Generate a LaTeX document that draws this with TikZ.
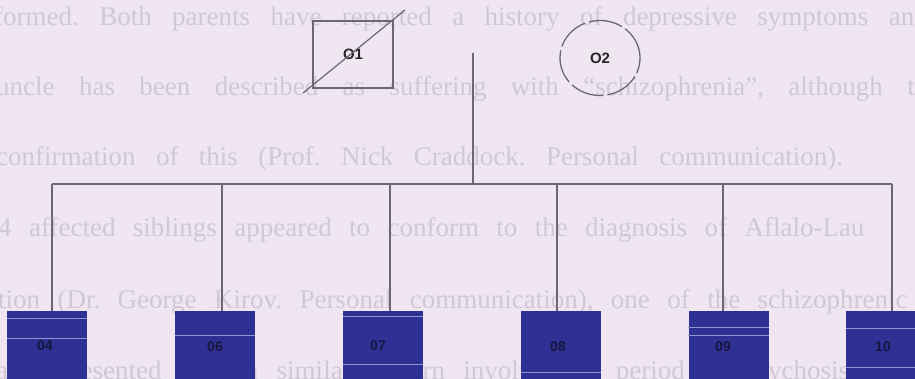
\documentclass[tikz,border=0pt]{standalone}
\usepackage{fontspec}
\setmainfont{Liberation Serif}
\newfontfamily\labfont{Liberation Sans}
\usetikzlibrary{shapes.geometric}
\definecolor{bg}{HTML}{EFE6F1}
\definecolor{ghost}{HTML}{D1C8D6}
\definecolor{ink}{HTML}{6C6676}
\definecolor{boxblue}{HTML}{2E3094}
\definecolor{lab}{HTML}{17163F}
\definecolor{scan}{HTML}{9492CC}
\frenchspacing
% next faint word of the scanned page, one (wide, justified) space after the previous one
\newcommand{\gap}{20pt}
\newcommand{\gw}[3]{\node[ghosttext] (#1) at ([xshift=\gap]#2.base east) {#3};}
\begin{document}
\begin{tikzpicture}[x=1pt,y=-1pt,
  ghosttext/.style={anchor=base west,text=ghost,inner sep=0pt,font=\fontsize{27}{27}\selectfont},
  conn/.style={draw=ink,line width=1.2pt},
  parentlab/.style={font=\labfont\bfseries\fontsize{15}{15}\selectfont,text=black!85},
  male/.style={rectangle,draw=ink,line width=1.4pt,minimum width=80pt,minimum height=67pt,inner sep=0pt},
  female/.style={ellipse,draw=ink,line width=1.3pt,dash pattern=on 34pt off 4pt,minimum width=80pt,minimum height=75pt,inner sep=0pt},
  child/.style={rectangle,fill=boxblue,minimum width=80pt,minimum height=72pt,inner sep=0pt},
  childlab/.style={text=lab,font=\labfont\bfseries\fontsize{14}{14}\selectfont},
  scanline/.style={draw=scan,line width=0.6pt}]
\useasboundingbox (0,0) rectangle (915,379);
\clip (0,0) rectangle (915,379);
\fill[bg] (0,0) rectangle (915,379);
% faint text of the scanned page
\renewcommand{\gap}{20pt}
\node[ghosttext] (a1) at (-6,26) {formed.};
\gw{a2}{a1}{Both}\gw{a3}{a2}{parents}\gw{a4}{a3}{have}\gw{a5}{a4}{reported}\gw{a6}{a5}{a}
\gw{a7}{a6}{history}\gw{a8}{a7}{of}\gw{a9}{a8}{depressive}\gw{a10}{a9}{symptoms}\gw{a11}{a10}{and}
\renewcommand{\gap}{24pt}
\node[ghosttext] (b1) at (-4,96) {uncle};
\gw{bb2}{b1}{has}\gw{bb3}{bb2}{been}\gw{bb4}{bb3}{described}\gw{bb5}{bb4}{as}\gw{bb6}{bb5}{suffering}
\gw{bb7}{bb6}{with}\gw{bb8}{bb7}{``schizophrenia'',}\gw{bb9}{bb8}{although}\gw{bb10}{bb9}{th}
\renewcommand{\gap}{20pt}
\node[ghosttext] (c1) at (-4,166) {confirmation};
\gw{c2}{c1}{of}\gw{c3}{c2}{this}\gw{c4}{c3}{(Prof.}\gw{c5}{c4}{Nick}\gw{c6}{c5}{Craddock.}
\gw{c7}{c6}{Personal}\gw{c8}{c7}{communication).}
\renewcommand{\gap}{17pt}
\node[ghosttext] (e1) at (-2,237) {4};
\gw{e2}{e1}{affected}\gw{e3}{e2}{siblings}\gw{e4}{e3}{appeared}\gw{e5}{e4}{to}\gw{e6}{e5}{conform}
\gw{e7}{e6}{to}\gw{e8}{e7}{the}\gw{e9}{e8}{diagnosis}\gw{e10}{e9}{of}\gw{e11}{e10}{Aflalo-Lau}
\renewcommand{\gap}{17pt}
\node[ghosttext] (f1) at (-2,308) {tion};
\gw{f2}{f1}{(Dr.}\gw{f3}{f2}{George}\gw{f4}{f3}{Kirov.}\gw{f5}{f4}{Personal}\gw{f6}{f5}{communication),}
\gw{f7}{f6}{one}\gw{f8}{f7}{of}\gw{f9}{f8}{the}\gw{f10}{f9}{schizophrenic}
\renewcommand{\gap}{18pt}
\node[ghosttext] (g1) at (-4,379) {also};
\gw{g2}{g1}{presented}\gw{g3}{g2}{with}\gw{g4}{g3}{a}\gw{g5}{g4}{similar}\gw{g6}{g5}{pattern}
\gw{g7}{g6}{involving}\gw{g8}{g7}{a}\gw{g9}{g8}{period}\gw{g10}{g9}{of}\gw{g11}{g10}{psychosis}\gw{g12}{g11}{to}
% parents
\node[male] (o1) at (353,54.5) {};
\node[parentlab] (o1l) at (o1.center) {O1};
\coordinate (d1) at (303,93);
\coordinate (d2) at (405,10);
\draw[ink,line width=1.2pt] (d1) -- (d2);
\node[female] (o2) at (600,58) {};
\node[parentlab] (o2l) at (o2.center) {O2};
% sibship
\coordinate (top) at (473,53);
\coordinate (mid) at (473,184);
\coordinate (s1) at (52,184);
\coordinate (s2) at (222,184);
\coordinate (s3) at (390,184);
\coordinate (s4) at (557,184);
\coordinate (s5) at (723,184);
\coordinate (s6) at (892,184);
\node[child] (c04) at (47,347) {};
\node[child] (c06) at (215,347) {};
\node[child] (c07) at (383,347) {};
\node[child] (c08) at (561,347) {};
\node[child] (c09) at (728.5,347) {};
\node[child] (c10) at (886,347) {};
\draw[conn] (top) -- (mid);
\draw[conn] (s1) -- (s6);
\draw[conn] (s1) -- (s1 |- c04.north);
\draw[conn] (s2) -- (s2 |- c06.north);
\draw[conn] (s3) -- (s3 |- c07.north);
\draw[conn] (s4) -- (s4 |- c08.north);
\draw[conn] (s5) -- (s5 |- c09.north);
\draw[conn] (s6) -- (s6 |- c10.north);
% scan streaks in the boxes
\draw[scanline] (c04.west |- 0,318) -- (c04.east |- 0,318);
\draw[scanline] (c04.west |- 0,338) -- (c04.east |- 0,338);
\draw[scanline] (c06.west |- 0,335) -- (c06.east |- 0,335);
\draw[scanline] (c07.west |- 0,316) -- (c07.east |- 0,316);
\draw[scanline] (c07.west |- 0,364) -- (c07.east |- 0,364);
\draw[scanline] (c08.west |- 0,372) -- (c08.east |- 0,372);
\draw[scanline] (c09.west |- 0,327) -- (c09.east |- 0,327);
\draw[scanline] (c09.west |- 0,335) -- (c09.east |- 0,335);
\draw[scanline] (c10.west |- 0,328) -- (c10.east |- 0,328);
\draw[scanline] (c10.west |- 0,367) -- (c10.east |- 0,367);
% labels
\node[childlab] (l04) at (45,346) {04};
\node[childlab] (l06) at (215,347) {06};
\node[childlab] (l07) at (378,346) {07};
\node[childlab] (l08) at (558,347) {08};
\node[childlab] (l09) at (723,347) {09};
\node[childlab] (l10) at (883,347) {10};
\end{tikzpicture}
\end{document}
